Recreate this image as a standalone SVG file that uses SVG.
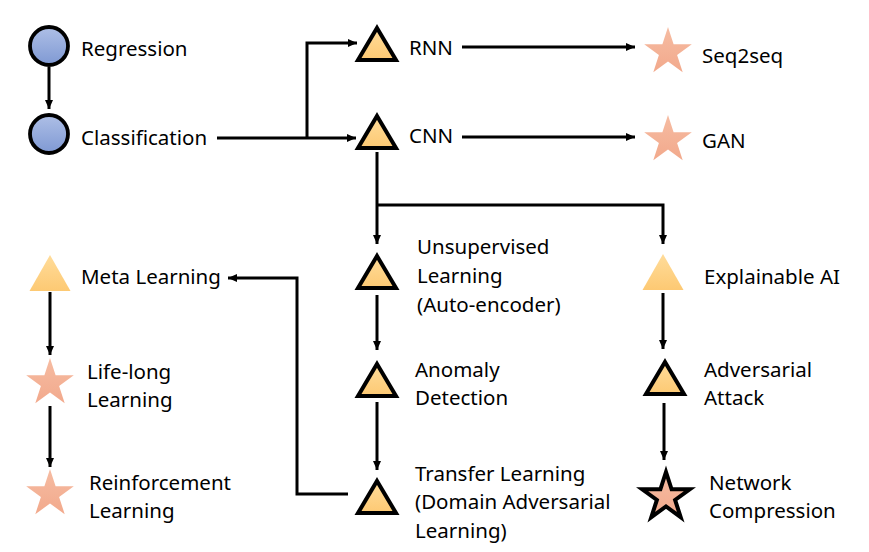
<svg xmlns="http://www.w3.org/2000/svg" width="869" height="552" viewBox="0 0 869 552">
  <defs>
    <linearGradient id="gBlue" x1="0" y1="0" x2="0" y2="1">
      <stop offset="0" stop-color="#aebfe6"/>
      <stop offset="1" stop-color="#7f99d3"/>
    </linearGradient>
    <linearGradient id="gGold" x1="0" y1="0" x2="0" y2="1">
      <stop offset="0" stop-color="#ffdc9a"/>
      <stop offset="1" stop-color="#fdc973"/>
    </linearGradient>
    <linearGradient id="gSalmon" x1="0" y1="0" x2="0" y2="1">
      <stop offset="0" stop-color="#f6bca2"/>
      <stop offset="1" stop-color="#f2a98c"/>
    </linearGradient>
    <marker id="arrow" markerUnits="userSpaceOnUse" markerWidth="10" markerHeight="10" viewBox="0 0 10 10" refX="9" refY="5" orient="auto">
      <path d="M0,1 L9,5 L0,9 Z" fill="#000"/>
    </marker>
    <!-- shared shapes, centred on the origin -->
    <path id="tri" d="M0,-16 L19,16 L-19,16 Z"/>
    <path id="triPlain" d="M0,-18 L20.5,18 L-20.5,18 Z"/>
    <path id="star" d="M0,-25 L5.6,-7.7 L23.8,-7.7 L9.1,2.9 L14.7,20.2 L0,9.5 L-14.7,20.2 L-9.1,2.9 L-23.8,-7.7 L-5.6,-7.7 Z"/>
  </defs>
  <style>
    text { font-family: "Noto Sans", "Open Sans", sans-serif; font-size: 20.5px; fill: #000; }
    .circle { fill: url(#gBlue); stroke: #000; stroke-width: 3.8; }
    .tri { fill: url(#gGold); stroke: #000; stroke-width: 4; stroke-linejoin: miter; }
    .triPlain { fill: url(#gGold); }
    .star { fill: url(#gSalmon); }
    .starEdge { fill: url(#gSalmon); stroke: #000; stroke-width: 4; stroke-linejoin: miter; }
    .link { fill: none; stroke: #000; stroke-width: 3; }
    .arrow { marker-end: url(#arrow); }
  </style>

  <rect width="869" height="552" fill="#fff"/>

  <!-- connectors -->
  <g id="connectors">
    <path class="link arrow" d="M49,67 V109"/>
    <path class="link arrow" d="M217,138 H356"/>
    <path class="link arrow" d="M307,138 V43 H357"/>
    <path class="link arrow" d="M462,47 H635"/>
    <path class="link arrow" d="M462,137 H635"/>
    <path class="link arrow" d="M377,152 V244"/>
    <path class="link arrow" d="M377,205 H663 V244"/>
    <path class="link arrow" d="M377,295 V350"/>
    <path class="link arrow" d="M377,402 V470"/>
    <path class="link arrow" d="M348,494 H297 V278 H228"/>
    <path class="link arrow" d="M50,292 V355"/>
    <path class="link arrow" d="M50,406 V467"/>
    <path class="link arrow" d="M663,293 V349"/>
    <path class="link arrow" d="M664,403 V460"/>
  </g>

  <!-- nodes -->
  <g id="regression">
    <circle class="circle" cx="49" cy="46" r="19"/>
    <text x="81" y="56">Regression</text>
  </g>
  <g id="classification">
    <circle class="circle" cx="49" cy="134" r="19"/>
    <text x="81" y="145">Classification</text>
  </g>
  <g id="rnn">
    <use href="#tri" class="tri" x="377" y="44"/>
    <text x="409" y="55">RNN</text>
  </g>
  <g id="cnn">
    <use href="#tri" class="tri" x="377" y="132"/>
    <text x="409" y="143">CNN</text>
  </g>
  <g id="seq2seq">
    <use href="#star" class="star" x="668" y="52"/>
    <text x="702" y="63">Seq2seq</text>
  </g>
  <g id="gan">
    <use href="#star" class="star" x="668" y="140"/>
    <text x="702" y="148">GAN</text>
  </g>
  <g id="unsupervised">
    <use href="#tri" class="tri" x="377" y="272"/>
    <text x="417" y="254">Unsupervised</text>
    <text x="417" y="283">Learning</text>
    <text x="417" y="312">(Auto-encoder)</text>
  </g>
  <g id="explainable-ai">
    <use href="#triPlain" class="triPlain" x="663" y="272"/>
    <text x="704" y="284">Explainable AI</text>
  </g>
  <g id="anomaly-detection">
    <use href="#tri" class="tri" x="377" y="380"/>
    <text x="415" y="377">Anomaly</text>
    <text x="415" y="405">Detection</text>
  </g>
  <g id="transfer-learning">
    <use href="#tri" class="tri" x="377" y="497"/>
    <text x="415" y="481">Transfer Learning</text>
    <text x="415" y="509">(Domain Adversarial</text>
    <text x="415" y="538">Learning)</text>
  </g>
  <g id="adversarial-attack">
    <use href="#tri" class="tri" x="665" y="378"/>
    <text x="704" y="377">Adversarial</text>
    <text x="704" y="405">Attack</text>
  </g>
  <g id="network-compression">
    <use href="#star" class="starEdge" x="666" y="497"/>
    <text x="709" y="490">Network</text>
    <text x="709" y="518">Compression</text>
  </g>
  <g id="meta-learning">
    <use href="#triPlain" class="triPlain" x="50" y="273"/>
    <text x="81" y="284">Meta Learning</text>
  </g>
  <g id="life-long-learning">
    <use href="#star" class="star" x="50" y="383"/>
    <text x="87" y="379">Life-long</text>
    <text x="87" y="407">Learning</text>
  </g>
  <g id="reinforcement-learning">
    <use href="#star" class="star" x="50" y="494"/>
    <text x="89" y="490">Reinforcement</text>
    <text x="89" y="518">Learning</text>
  </g>
</svg>
